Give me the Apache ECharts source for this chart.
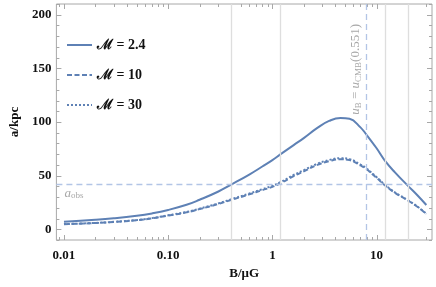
<!DOCTYPE html>
<html><head><meta charset="utf-8">
<script src="https://cdn.jsdelivr.net/npm/echarts@6/dist/echarts.min.js"></script>
<style>html,body{margin:0;padding:0;background:#fff}#c{width:436px;height:287px}</style>
</head><body><div id="c"></div>
<script>
// ---- data ----
const B      = [0.01, 0.02, 0.03, 0.05, 0.07, 0.1, 0.15, 0.2, 0.3, 0.4, 0.6, 0.8, 1.0, 1.2, 1.6, 2.0, 2.7, 3.5, 4.5, 5.5, 7.0, 7.8, 10, 12, 15, 20, 25, 30];
const aM2_4  = [7.0, 8.8, 10.2, 12.6, 14.8, 18.0, 22.8, 27.5, 35.0, 41.5, 51.0, 58.5, 64.5, 70.0, 78.5, 85.0, 94.5, 101.0, 103.8, 103.0, 95.0, 89.5, 75.5, 64.0, 53.0, 40.5, 31.0, 22.6];
const aM10   = [4.7, 5.8, 6.8, 8.5, 10.2, 12.8, 15.8, 18.8, 23.5, 27.3, 32.5, 36.5, 39.5, 43.0, 49.5, 54.0, 60.0, 63.5, 65.3, 64.5, 59.5, 56.8, 48.0, 41.0, 34.0, 26.8, 20.5, 14.3];
const aM30   = [4.8, 5.9, 6.9, 8.6, 10.4, 13.0, 16.1, 19.2, 24.0, 27.9, 33.3, 37.4, 40.5, 44.0, 50.6, 55.1, 61.1, 64.6, 66.3, 65.4, 60.3, 57.5, 48.6, 41.5, 34.4, 27.1, 20.7, 14.4];
const seriesNames = ['\u2133 = 2.4', '\u2133 = 10', '\u2133 = 30'];
const xTickValues = [0.01, 0.1, 1, 10];
const xTickLabels = ['0.01', '0.10', '1', '10'];
const yTickValues = [0, 50, 100, 150, 200];
const gridLinesX = [0.4, 1.2, 12, 20];
const bEquipartition = 7.9;
const aObs = 42;

const X_MIN = 0.00846, X_MAX = 34, Y_MIN = -10, Y_MAX = 210;
const BLUE = '#5e81b5';
const FONT = '"Liberation Serif", "DejaVu Serif", serif';

// frame tick marks (Mathematica style, on all four sides)
const tickItems = [];
for (let e = -3; e <= 1; e++) {
  for (let m = 1; m <= 9; m++) {
    const v = m * Math.pow(10, e);
    if (v >= X_MIN && v <= X_MAX) tickItems.push({value: [v, 0], kind: 'x', major: m === 1});
  }
}
for (let v = -10; v <= 210; v += 10) {
  tickItems.push({value: [1, v], kind: 'y', major: yTickValues.indexOf(v) >= 0});
}

const chart = echarts.init(document.getElementById('c'), null, {renderer: 'canvas'});
const lineStyles = [
  {width: 2, color: BLUE, type: 'solid'},
  {width: 2, color: BLUE, type: [5, 2.5]},
  {width: 2, color: BLUE, type: [2, 2]}
];
const curves = [aM2_4, aM10, aM30].map((arr, k) => ({
  name: seriesNames[k], type: 'line', z: 3,
  data: B.map((b, i) => [b, arr[i]]),
  smooth: 0.45, symbol: 'none', showSymbol: false,
  lineStyle: lineStyles[k], itemStyle: {color: BLUE}
}));

chart.setOption({
  animation: false,
  backgroundColor: '#fff',
  grid: {left: 50, right: 4, top: 4, bottom: 47, show: true, borderColor: '#a8a8a8', borderWidth: 1},
  legend: {
    data: seriesNames, orient: 'vertical', left: 61, top: 33, itemGap: 16,
    itemWidth: 25, itemHeight: 12,
    itemStyle: {color: 'rgba(0,0,0,0)', borderWidth: 0, borderColor: 'rgba(0,0,0,0)'},
    textStyle: {fontFamily: FONT, fontWeight: 'bold', fontSize: 14, color: '#111'}
  },
  xAxis: {
    type: 'log', logBase: 10, min: X_MIN, max: X_MAX,
    name: 'B/\u03bcG', nameLocation: 'middle', nameGap: 21,
    nameTextStyle: {fontFamily: FONT, fontWeight: 'bold', fontSize: 13, color: '#111'},
    axisLine: {show: false}, axisTick: {show: false}, splitLine: {show: false},
    axisLabel: {
      showMinLabel: false, showMaxLabel: false, margin: 9,
      fontFamily: FONT, fontWeight: 'bold', fontSize: 13, color: '#111',
      formatter: v => { const i = xTickValues.findIndex(t => Math.abs(Math.log10(t) - Math.log10(v)) < 1e-6); return i >= 0 ? xTickLabels[i] : ''; }
    }
  },
  yAxis: {
    type: 'value', min: Y_MIN, max: Y_MAX, interval: 10,
    name: 'a/kpc', nameLocation: 'middle', nameGap: 33,
    nameTextStyle: {fontFamily: FONT, fontWeight: 'bold', fontSize: 13, color: '#111'},
    axisLine: {show: false}, axisTick: {show: false}, splitLine: {show: false},
    axisLabel: {
      margin: 5, fontFamily: FONT, fontWeight: 'bold', fontSize: 13, color: '#111',
      formatter: v => yTickValues.indexOf(v) >= 0 ? String(v) : ''
    }
  },
  series: [
    {
      name: 'refs', type: 'line', data: [], z: 1, symbol: 'none', silent: true,
      markLine: {
        silent: true, symbol: ['none', 'none'], animation: false,
        data: [
          ...gridLinesX.map(v => ({xAxis: v, lineStyle: {color: '#dedede', width: 1.3, type: 'solid'}, label: {show: false}})),
          {xAxis: bEquipartition, lineStyle: {color: '#b3c5e6', width: 1.3, type: [6, 4]},
           label: {show: true, position: 'insideEndTop', distance: [20, 3],
             formatter: '{i|u}{s|B}{n| = }{i|u}{s|CMB}{n|(0.551)}',
             rich: {
               i: {fontFamily: FONT, fontStyle: 'italic', fontSize: 13, color: '#a8a8a8', lineHeight: 15},
               n: {fontFamily: FONT, fontSize: 13, color: '#a8a8a8', lineHeight: 15},
               s: {fontFamily: FONT, fontSize: 9, color: '#a8a8a8', lineHeight: 15, verticalAlign: 'bottom', padding: [5, 0, 0, 0]}
             }}},
          {yAxis: aObs, lineStyle: {color: '#b3c5e6', width: 1.3, type: [6, 4]},
           label: {show: true, position: 'insideStartBottom', distance: [8, 2],
             formatter: '{i|a}{s|obs}',
             rich: {
               i: {fontFamily: FONT, fontStyle: 'italic', fontSize: 13, color: '#a8a8a8', lineHeight: 14},
               s: {fontFamily: FONT, fontSize: 9, color: '#a8a8a8', lineHeight: 14, verticalAlign: 'bottom', padding: [5, 0, 0, 0]}
             }}}
        ]
      }
    },
    ...curves,
    {
      name: 'ticks', type: 'custom', z: 2, silent: true,
      data: tickItems,
      renderItem: (params, api) => {
        const cs = params.coordSys;
        const item = tickItems[params.dataIndex];
        const len = item.major ? 5 : 3;
        const st = {stroke: '#a8a8a8', lineWidth: 1};
        if (item.kind === 'x') {
          const p = api.coord([item.value[0], 0]);
          const x = Math.round(p[0]) + 0.5;
          return {type: 'group', children: [
            {type: 'line', shape: {x1: x, y1: cs.y + cs.height, x2: x, y2: cs.y + cs.height - len}, style: st},
            {type: 'line', shape: {x1: x, y1: cs.y, x2: x, y2: cs.y + len}, style: st}
          ]};
        } else {
          const p = api.coord([1, item.value[1]]);
          const y = Math.round(p[1]) + 0.5;
          return {type: 'group', children: [
            {type: 'line', shape: {x1: cs.x, y1: y, x2: cs.x + len, y2: y}, style: st},
            {type: 'line', shape: {x1: cs.x + cs.width, y1: y, x2: cs.x + cs.width - len, y2: y}, style: st}
          ]};
        }
      }
    }
  ]
});
</script></body></html>
